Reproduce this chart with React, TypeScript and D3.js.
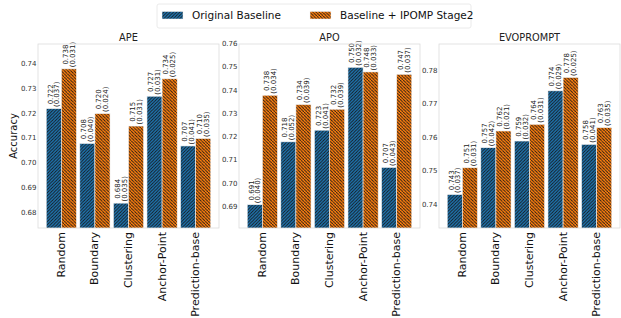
import React from 'react';
import * as d3 from 'd3';

const categories = ['Random', 'Boundary', 'Clustering', 'Anchor-Point', 'Prediction-base'];
const methods = ['APE', 'APO', 'EVOPROMPT'];
const seriesNames = ['Original Baseline', 'Baseline + IPOMP Stage2'];

const apeBase = [0.722, 0.708, 0.684, 0.727, 0.707];
const apeBaseStd = [0.037, 0.040, 0.035, 0.031, 0.041];
const apeStage2 = [0.738, 0.720, 0.715, 0.734, 0.710];
const apeStage2Std = [0.031, 0.024, 0.031, 0.025, 0.035];

const apoBase = [0.691, 0.718, 0.723, 0.750, 0.707];
const apoBaseStd = [0.040, 0.052, 0.041, 0.032, 0.043];
const apoStage2 = [0.738, 0.734, 0.732, 0.748, 0.747];
const apoStage2Std = [0.034, 0.039, 0.039, 0.033, 0.037];

const evoBase = [0.743, 0.757, 0.759, 0.774, 0.758];
const evoBaseStd = [0.037, 0.042, 0.032, 0.029, 0.041];
const evoStage2 = [0.751, 0.762, 0.764, 0.778, 0.763];
const evoStage2Std = [0.031, 0.021, 0.031, 0.025, 0.035];

const panels = [
    {title: methods[0], base: apeBase, baseStd: apeBaseStd, stage2: apeStage2, stage2Std: apeStage2Std},
    {title: methods[1], base: apoBase, baseStd: apoBaseStd, stage2: apoStage2, stage2Std: apoStage2Std},
    {title: methods[2], base: evoBase, baseStd: evoBaseStd, stage2: evoStage2, stage2Std: evoStage2Std},
];

const W = 621;
const H = 318;
const top = 44;
const bottom = 228;
const panelW = 181;
const panelLefts = [38, 239, 439];
const colors = ['#1f77b4', '#ff7f0e'];
const font = 'DejaVu Sans, sans-serif';

function Hatch({id, color, back}: {id: string; color: string; back: boolean}) {
    const s = 3.2;
    const d = back
        ? `M-1,-1 l2,2 M0,0 l${s},${s} M${s - 1},${s - 1} l2,2`
        : `M-1,1 l2,-2 M0,${s} l${s},-${s} M${s - 1},${s + 1} l2,-2`;
    return (
        <pattern id={id} patternUnits="userSpaceOnUse" width={s} height={s}>
            <rect width={s} height={s} fill={color}/>
            <path d={d} stroke="#151515" strokeWidth={0.85}/>
        </pattern>
    );
}

function Panel({p, left, idx}: any) {
    const all = [...p.base, ...p.stage2];
    const lo = (d3.min(all) as number) - 0.01;
    const hi = (d3.max(all) as number) + 0.01;
    const y = d3.scaleLinear().domain([lo, hi]).range([bottom, top]);
    const x = d3.scaleBand<string>().domain(categories).range([left, left + panelW])
        .paddingInner(0.1).paddingOuter(0.245);
    const sub = d3.scaleBand<number>().domain([0, 1]).range([0, x.bandwidth()]);
    const ticks = d3.range(Math.ceil(lo * 100 - 1e-6), Math.floor(hi * 100 + 1e-6) + 1).map(v => v / 100);
    const series = [
        {vals: p.base, std: p.baseStd},
        {vals: p.stage2, std: p.stage2Std},
    ];
    const clipId = `clip${idx}`;
    const halfLabel = 12.8;

    return (
        <g>
            <clipPath id={clipId}>
                <rect x={left} y={top} width={panelW} height={bottom - top}/>
            </clipPath>
            <text x={left + panelW / 2} y={top - 3.5} textAnchor="middle" fontSize={9.8}
                  fontFamily={font} fill="#222">{p.title}</text>
            {ticks.map(t => (
                <text key={t} x={left - 1.5} y={y(t)} textAnchor="end" dominantBaseline="central"
                      fontSize={7} fontFamily={font} fill="#333">{t.toFixed(2)}</text>
            ))}
            <g clipPath={`url(#${clipId})`}>
                {series.map((s, si) => categories.map((c, ci) => (
                    <rect key={`${si}-${ci}`}
                          x={(x(c) as number) + (sub(si) as number)}
                          y={y(s.vals[ci])}
                          width={sub.bandwidth()}
                          height={bottom - y(s.vals[ci]) + 2}
                          fill={`url(#hatch${si})`}
                          stroke="#f4f4f4" strokeWidth={0.6}/>
                )))}
            </g>
            {series.map((s, si) => categories.map((c, ci) => {
                const cx = (x(c) as number) + (sub(si) as number) + sub.bandwidth() / 2;
                const cy = y(s.vals[ci]) - 1.5 - halfLabel;
                return (
                    <text key={`l${si}-${ci}`} transform={`translate(${cx},${cy}) rotate(-90)`}
                          textAnchor="middle" fontSize={7} fontFamily={font} fill="#222">
                        <tspan x={0} y={-1.2}>{s.vals[ci].toFixed(3)}</tspan>
                        <tspan x={0} y={5.6}>({s.std[ci].toFixed(3)})</tspan>
                    </text>
                );
            }))}
            <rect x={left} y={top} width={panelW} height={bottom - top} fill="none"
                  stroke="#dcdcdc" strokeWidth={0.8}/>
            {categories.map(c => (
                <text key={c}
                      transform={`translate(${(x(c) as number) + x.bandwidth() / 2},${bottom + 4}) rotate(-90)`}
                      textAnchor="end" dominantBaseline="central" fontSize={11} fontFamily={font}
                      fill="#111">{c}</text>
            ))}
        </g>
    );
}

export default function App() {
    return (
        <svg width={W} height={H} style={{position: 'absolute', left: 0, top: 0, background: '#fff'}}>
            <defs>
                <Hatch id="hatch0" color={colors[0]} back={false}/>
                <Hatch id="hatch1" color={colors[1]} back={true}/>
            </defs>
            <rect width={W} height={H} fill="#fff"/>
            {/* legend */}
            <rect x={157} y={4} width={314} height={24} rx={2} fill="#fff" stroke="#e4e4e4" strokeWidth={0.8}/>
            {seriesNames.map((n, i) => {
                const lx = [162, 310][i];
                return (
                    <g key={n}>
                        <rect x={lx} y={11.5} width={21} height={7.5} fill={`url(#hatch${i})`}
                              stroke="#f4f4f4" strokeWidth={0.5}/>
                        <text x={lx + 30} y={19} fontSize={10.5} fontFamily={font} fill="#111">{n}</text>
                    </g>
                );
            })}
            <text transform={`translate(13,${(top + bottom) / 2}) rotate(-90)`} textAnchor="middle"
                  dominantBaseline="central" fontSize={10} fontFamily={font} fill="#111">Accuracy</text>
            {panels.map((p, i) => (
                <Panel key={p.title} p={p} left={panelLefts[i]} idx={i}/>
            ))}
        </svg>
    );
}
